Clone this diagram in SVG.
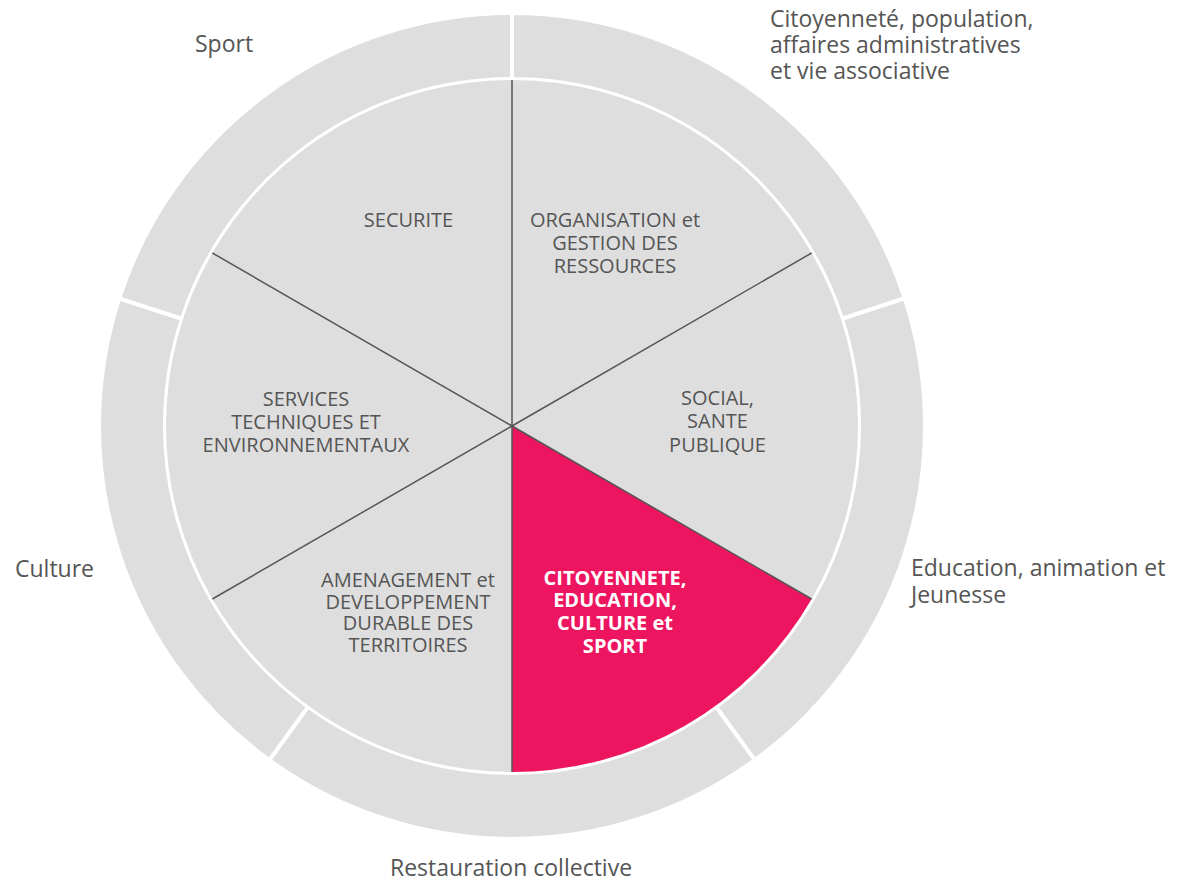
<svg xmlns="http://www.w3.org/2000/svg" width="1177" height="881" viewBox="0 0 1177 881">
  <style>
    .ring { fill: #dedede; stroke: #ffffff; stroke-width: 4; stroke-linejoin: miter; }
    .slice { fill: #dedede; }
    .slice.active { fill: #ee1560; }
    .divider { stroke: #555555; stroke-width: 1.5; fill: none; }
    .outer-label { font-family: "Open Sans", "Liberation Sans", sans-serif; font-size: 23px; fill: #555555; }
    .inner-label { font-family: "Open Sans", "Liberation Sans", sans-serif; font-size: 20px; fill: #555555; text-anchor: middle; }
    .inner-label.active { fill: #ffffff; font-weight: bold; }
  </style>
  <rect width="1177" height="881" fill="#ffffff"/>

  <!-- outer ring: five service areas -->
  <g id="ring-citoyennete">
    <path class="ring" d="M512,13 A413,413 0 0 1 904.79,298.38 L842.02,318.77 A347,347 0 0 0 512,79 Z"/>
    <text class="outer-label" x="770" y="27">Citoyenneté, population,</text>
    <text class="outer-label" x="770" y="53">affaires administratives</text>
    <text class="outer-label" x="770" y="79">et vie associative</text>
  </g>
  <g id="ring-education">
    <path class="ring" d="M904.79,298.38 A413,413 0 0 1 754.76,760.12 L715.96,706.73 A347,347 0 0 0 842.02,318.77 Z"/>
    <text class="outer-label" x="911" y="576">Education, animation et</text>
    <text class="outer-label" x="911" y="603">Jeunesse</text>
  </g>
  <g id="ring-restauration">
    <path class="ring" d="M754.76,760.12 A413,413 0 0 1 269.24,760.12 L308.04,706.73 A347,347 0 0 0 715.96,706.73 Z"/>
    <text class="outer-label" x="390" y="876">Restauration collective</text>
  </g>
  <g id="ring-culture">
    <path class="ring" d="M269.24,760.12 A413,413 0 0 1 119.21,298.38 L181.98,318.77 A347,347 0 0 0 308.04,706.73 Z"/>
    <text class="outer-label" x="15" y="577">Culture</text>
  </g>
  <g id="ring-sport">
    <path class="ring" d="M119.21,298.38 A413,413 0 0 1 512,13 L512,79 A347,347 0 0 0 181.98,318.77 Z"/>
    <text class="outer-label" x="195" y="52">Sport</text>
  </g>

  <!-- inner pie: six directorates -->
  <g id="slice-organisation">
    <path class="slice" d="M512,426 L512,80 A346,346 0 0 1 811.64,253 Z"/>
    <text class="inner-label" x="615" y="226.5">ORGANISATION et</text>
    <text class="inner-label" x="615" y="249.5">GESTION DES</text>
    <text class="inner-label" x="615" y="272.5">RESSOURCES</text>
  </g>
  <g id="slice-social">
    <path class="slice" d="M512,426 L811.64,253 A346,346 0 0 1 811.64,599 Z"/>
    <text class="inner-label" x="717.5" y="405">SOCIAL,</text>
    <text class="inner-label" x="717.5" y="428">SANTE</text>
    <text class="inner-label" x="717.5" y="451.5">PUBLIQUE</text>
  </g>
  <g id="slice-citoyennete">
    <path class="slice active" d="M512,426 L811.64,599 A346,346 0 0 1 512,772 Z"/>
    <text class="inner-label active" x="615" y="585">CITOYENNETE,</text>
    <text class="inner-label active" x="615" y="607">EDUCATION,</text>
    <text class="inner-label active" x="615" y="629.5">CULTURE et</text>
    <text class="inner-label active" x="615" y="652.5">SPORT</text>
  </g>
  <g id="slice-amenagement">
    <path class="slice" d="M512,426 L512,772 A346,346 0 0 1 212.36,599 Z"/>
    <text class="inner-label" x="408" y="587">AMENAGEMENT et</text>
    <text class="inner-label" x="408" y="608.5">DEVELOPPEMENT</text>
    <text class="inner-label" x="408" y="630">DURABLE DES</text>
    <text class="inner-label" x="408" y="652">TERRITOIRES</text>
  </g>
  <g id="slice-services">
    <path class="slice" d="M512,426 L212.36,599 A346,346 0 0 1 212.36,253 Z"/>
    <text class="inner-label" x="306" y="406">SERVICES</text>
    <text class="inner-label" x="306" y="429">TECHNIQUES ET</text>
    <text class="inner-label" x="306" y="452">ENVIRONNEMENTAUX</text>
  </g>
  <g id="slice-securite">
    <path class="slice" d="M512,426 L212.36,253 A346,346 0 0 1 512,80 Z"/>
    <text class="inner-label" x="408.5" y="226.5">SECURITE</text>
  </g>

  <!-- spokes between slices -->
  <g id="connectors">
    <line class="divider" x1="512" y1="426" x2="512" y2="80"/>
    <line class="divider" x1="512" y1="426" x2="811.64" y2="253"/>
    <line class="divider" x1="512" y1="426" x2="811.64" y2="599"/>
    <line class="divider" x1="512" y1="426" x2="512" y2="772"/>
    <line class="divider" x1="512" y1="426" x2="212.36" y2="599"/>
    <line class="divider" x1="512" y1="426" x2="212.36" y2="253"/>
  </g>
</svg>
